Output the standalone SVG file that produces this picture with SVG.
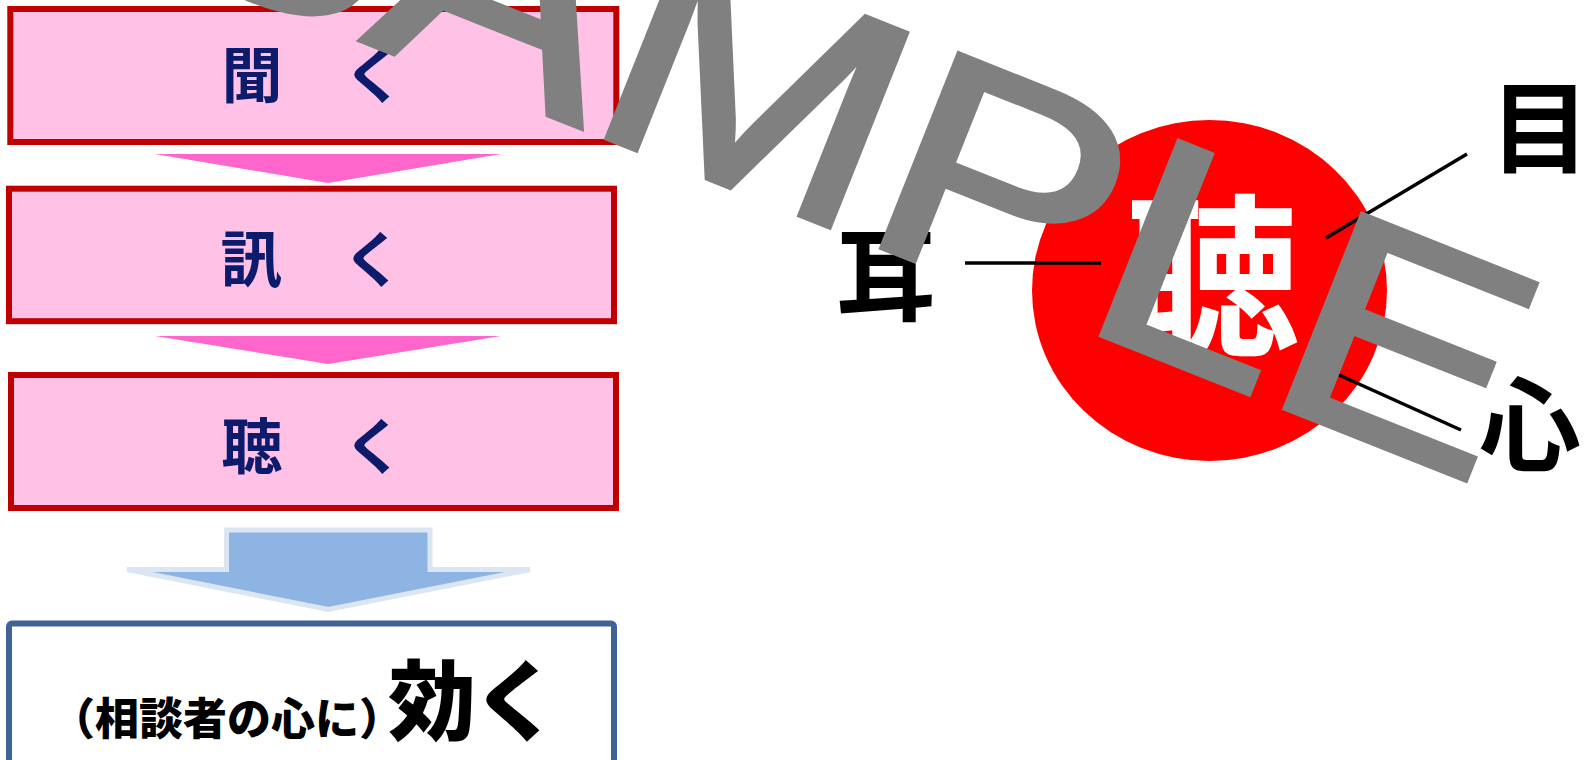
<svg xmlns="http://www.w3.org/2000/svg" width="1590" height="760" viewBox="0 0 1590 760">
  <style>
    .box { fill: #FFC1E6; stroke: #C00000; stroke-width: 6; }
    .boxtxt { font-family: "Noto Sans CJK JP", "Noto Sans CJK SC", sans-serif; font-weight: 700; font-size: 61px; fill: #0C1B6B; text-anchor: middle; }
    .chev { fill: #FF66CC; }
    .lbl { font-family: "Noto Sans CJK JP", "Noto Sans CJK SC", sans-serif; font-weight: 700; fill: #000000; text-anchor: middle; }
    .ln { stroke: #000000; stroke-width: 3.5; fill: none; }
  </style>
  <rect width="1590" height="760" fill="#FFFFFF"/>

  <g id="node-kiku1">
    <rect class="box" x="10.3" y="9" width="606" height="133"/>
    <text class="boxtxt" x="313" y="98">聞　く</text>
  </g>
  <g id="node-kiku2">
    <rect class="box" x="9" y="188.7" width="605" height="132.5"/>
    <text class="boxtxt" x="312" y="282">訊　く</text>
  </g>
  <g id="node-kiku3">
    <rect class="box" x="11" y="375" width="605" height="133"/>
    <text class="boxtxt" x="313" y="469">聴　く</text>
  </g>
  <g id="node-kiku4">
    <rect x="9" y="623.5" width="605" height="200" rx="3" fill="#FFFFFF" stroke="#3F6394" stroke-width="6"/>
    <text x="51" y="735" font-family="Noto Sans CJK JP, Noto Sans CJK SC, sans-serif" font-weight="900" font-size="44" fill="#000000">（相談者の心に）</text>
    <text x="388" y="733" font-family="Noto Sans CJK JP, Noto Sans CJK SC, sans-serif" font-weight="900" font-size="88" fill="#000000">効<tspan dx="-4">く</tspan></text>
  </g>

  <g id="node-chou">
    <ellipse cx="1209.5" cy="290.5" rx="177.5" ry="170.5" fill="#FF0000"/>
    <text class="lbl" x="1212" y="341" font-size="175" style="fill:#FFFFFF">聴</text>
  </g>
  <g id="node-mimi">
    <text class="lbl" x="886" y="313" font-size="100">耳</text>
  </g>
  <g id="node-me">
    <text class="lbl" x="1540" y="165" font-size="100">目</text>
  </g>
  <g id="node-kokoro">
    <text class="lbl" x="1530" y="463" font-size="102">心</text>
  </g>

  <g id="connectors">
    <polygon class="chev" points="155,154 501,154 328,183"/>
    <polygon class="chev" points="155,336 501,336 328,364"/>
    <path d="M226.5,530 L430,530 L430,569.5 L530,569.5 L328.3,609.5 L127,569.5 L226.5,569.5 Z" fill="#8EB4E3" stroke="#DCE6F2" stroke-width="5" stroke-linejoin="miter"/>
    <line class="ln" x1="965" y1="263" x2="1101" y2="263"/>
    <line class="ln" x1="1326" y1="238" x2="1467" y2="154"/>
    <line class="ln" x1="1339" y1="375" x2="1461" y2="430"/>
  </g>

  <g id="watermark">
    <text x="0" y="0" transform="translate(141,-47.5) rotate(21.7) scale(1.1755,1)" font-family="Liberation Sans, Arial, sans-serif" font-size="302" fill="#808080" stroke="#808080" stroke-width="6" stroke-linejoin="miter">SAMPLE</text>
  </g>
</svg>
